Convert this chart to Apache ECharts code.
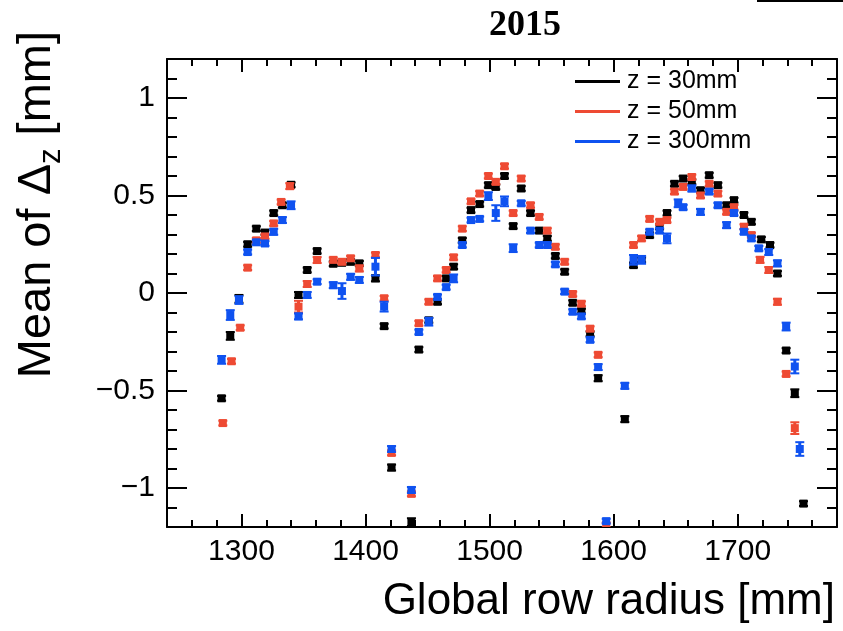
<!DOCTYPE html>
<html>
<head>
<meta charset="utf-8">
<script src="https://cdn.jsdelivr.net/npm/echarts@6/dist/echarts.min.js"></script>
<style>html,body{margin:0;padding:0;background:#fff}#c{width:843px;height:631px}</style>
</head>
<body>
<div id="c"></div>
<script>
// [radius (mm), mean of Δz (mm), error (mm)]
var seriesNames = ['z = 30mm', 'z = 50mm', 'z = 300mm'];
var xMajorTicks = [1300, 1400, 1500, 1600, 1700];
var yMajorTicks = [-1, -0.5, 0, 0.5, 1];

var z30 = [
  [1284,-0.54,0.012],[1291,-0.22,0.02],[1298,-0.03,0.02],[1305,0.25,0.012],[1312,0.33,0.012],
  [1319,0.31,0.012],[1326,0.41,0.012],[1333,0.45,0.012],[1340,0.555,0.012],
  [1346,-0.01,0.015],[1353,0.118,0.012],[1361,0.215,0.012],[1374,0.15,0.012],[1381,0.155,0.012],
  [1388,0.16,0.012],[1395,0.152,0.012],[1408,0.075,0.015],[1415,-0.17,0.012],
  [1421,-0.895,0.015],[1437,-1.175,0.02],
  [1443,-0.29,0.012],[1451,-0.14,0.012],[1458,-0.045,0.012],[1465,0.075,0.012],[1471,0.135,0.012],
  [1478,0.27,0.012],[1485,0.425,0.012],[1492,0.456,0.012],[1499,0.553,0.012],[1505,0.544,0.012],
  [1512,0.6,0.012],[1519,0.343,0.012],[1525.5,0.536,0.012],[1533,0.41,0.012],[1540,0.32,0.012],
  [1546.5,0.28,0.012],[1553,0.19,0.012],[1560.5,0.109,0.012],[1567,-0.05,0.012],[1574,-0.093,0.012],
  [1581,-0.21,0.012],[1587.5,-0.437,0.015],[1609,-0.647,0.015],
  [1616,0.143,0.012],[1622.5,0.17,0.012],[1629,0.297,0.012],[1637,0.34,0.012],[1643,0.41,0.012],
  [1649,0.56,0.012],[1656,0.587,0.012],[1663,0.57,0.012],[1670,0.527,0.012],[1677,0.604,0.012],
  [1684,0.553,0.012],[1691,0.45,0.012],[1697,0.476,0.012],[1705,0.4,0.012],[1711,0.365,0.012],
  [1719,0.275,0.012],[1726,0.246,0.012],[1732,0.1,0.012],[1739,-0.295,0.012],[1746,-0.514,0.02],
  [1753,-1.08,0.012]
];
var z50 = [
  [1285,-0.667,0.012],[1292,-0.35,0.012],[1299,-0.178,0.012],[1305,0.13,0.012],[1312,0.27,0.012],
  [1319,0.29,0.012],[1326,0.357,0.012],[1332,0.467,0.012],[1339,0.548,0.015],
  [1346,-0.07,0.03],[1353,0.046,0.015],[1361,0.169,0.015],[1374,0.17,0.012],[1381,0.16,0.012],
  [1388,0.178,0.012],[1395,0.126,0.015],[1408,0.195,0.012],[1415,-0.027,0.012],
  [1421,-0.82,0.012],[1437,-1.03,0.012],
  [1443,-0.155,0.012],[1451,-0.045,0.012],[1458,0.075,0.012],[1465,0.118,0.012],[1471,0.183,0.012],
  [1478,0.33,0.012],[1485,0.47,0.012],[1492,0.51,0.012],[1499,0.6,0.012],[1505,0.57,0.012],
  [1512,0.65,0.012],[1519,0.41,0.012],[1525.5,0.587,0.012],[1533,0.45,0.012],[1540,0.39,0.012],
  [1546.5,0.32,0.012],[1553,0.237,0.012],[1560.5,0.16,0.012],[1567,-0.005,0.012],[1574,-0.055,0.012],
  [1581,-0.183,0.012],[1587.5,-0.317,0.012],[1594,-1.19,0.012],
  [1616,0.246,0.012],[1622.5,0.28,0.012],[1629,0.38,0.012],[1637,0.365,0.012],[1643,0.374,0.012],
  [1649,0.52,0.012],[1656,0.544,0.012],[1663,0.595,0.012],[1670,0.5,0.012],[1677,0.56,0.012],
  [1684,0.51,0.012],[1691,0.416,0.012],[1697,0.44,0.012],[1705,0.34,0.012],[1711,0.297,0.012],
  [1718,0.17,0.015],[1725,0.118,0.015],[1732,-0.045,0.015],[1739,-0.415,0.012],[1746,-0.693,0.03]
];
var z300 = [
  [1284,-0.343,0.02],[1291,-0.113,0.025],[1298,-0.036,0.02],[1305,0.21,0.012],[1312,0.26,0.012],
  [1319,0.254,0.012],[1326,0.314,0.015],[1333,0.374,0.015],[1340,0.45,0.02],
  [1346,-0.12,0.015],[1353,-0.01,0.015],[1361,0.058,0.012],[1374,0.04,0.015],[1381,0.01,0.04],
  [1388,0.083,0.015],[1395,0.067,0.015],[1408,0.135,0.045],[1415,-0.07,0.025],
  [1421,-0.8,0.015],[1437,-1.01,0.015],
  [1443,-0.2,0.012],[1451,-0.147,0.02],[1458,-0.02,0.012],[1465,0.03,0.012],[1471,0.075,0.02],
  [1478,0.246,0.012],[1485,0.374,0.012],[1492,0.38,0.012],[1499,0.497,0.02],[1505,0.41,0.04],
  [1512,0.47,0.025],[1519,0.23,0.02],[1525.5,0.46,0.012],[1533,0.32,0.012],[1540,0.246,0.012],
  [1546.5,0.246,0.012],[1553,0.147,0.012],[1560.5,0.007,0.012],[1567,-0.096,0.012],[1574,-0.12,0.012],
  [1581,-0.24,0.012],[1587.5,-0.38,0.015],[1594,-1.17,0.012],[1609,-0.476,0.015],
  [1616,0.17,0.025],[1622.5,0.17,0.02],[1629,0.314,0.012],[1637,0.32,0.012],[1643,0.28,0.025],
  [1652,0.46,0.02],[1656,0.44,0.012],[1663,0.536,0.015],[1670,0.416,0.015],[1677,0.52,0.012],
  [1684,0.45,0.012],[1691,0.348,0.015],[1697,0.41,0.012],[1705,0.314,0.012],[1711,0.28,0.012],
  [1717,0.229,0.012],[1725,0.21,0.015],[1732,0.152,0.015],[1739,-0.172,0.02],[1746,-0.377,0.035],
  [1750,-0.8,0.035]
];
var seriesData = [z30, z50, z300];
var colors = ['#000000', '#ee4a33', '#0f52f0'];

var X_MIN = 1240, X_MAX = 1780, Y_MIN = -1.2, Y_MAX = 1.2;
var FONT = 'Liberation Sans, Arial, Helvetica, sans-serif';
var axisLineStyle = {show: true, onZero: false, lineStyle: {color: '#000', width: 2}};

function minusFmt(v) { return String(v).replace('-', '\u2212'); }
function plainFmt(v) { return String(v); }

function xAxisDef(pos, major) {
  var a = {
    type: 'value', position: pos, min: X_MIN, max: X_MAX, gridIndex: 0,
    splitLine: {show: false},
    axisLine: major ? {show: false, onZero: false} : axisLineStyle,
    axisTick: {show: true, inside: true, length: major ? 13 : 7, lineStyle: {color: '#000', width: 2}},
    axisLabel: {show: false}
  };
  if (major) {
    a.axisTick.customValues = xMajorTicks;
    if (pos === 'bottom') {
      a.axisLabel = {show: true, customValues: xMajorTicks, fontSize: 30, fontFamily: FONT, color: '#000', margin: 10, formatter: plainFmt};
      a.name = 'Global row radius [mm]';
      a.nameLocation = 'end';
      a.nameGap = -2;
      a.nameMoveOverlap = false;
      a.nameTextStyle = {fontSize: 44, fontFamily: FONT, color: '#000', align: 'right', verticalAlign: 'top', padding: [53, 0, 0, 0]};
    }
  } else {
    a.interval = 20;
  }
  return a;
}
function yAxisDef(pos, major) {
  var a = {
    type: 'value', position: pos, min: Y_MIN, max: Y_MAX, gridIndex: 0,
    splitLine: {show: false},
    axisLine: major ? {show: false, onZero: false} : axisLineStyle,
    axisTick: {show: true, inside: true, length: major ? 20 : 10, lineStyle: {color: '#000', width: 2}},
    axisLabel: {show: false}
  };
  if (major) {
    a.axisTick.customValues = yMajorTicks;
    if (pos === 'left') {
      a.axisLabel = {show: true, customValues: yMajorTicks, fontSize: 30, fontFamily: FONT, color: '#000', margin: 12, formatter: minusFmt};
      a.name = 'Mean of \u0394{sub|z} [mm]';
      a.nameLocation = 'end';
      a.nameRotate = 90;
      a.nameGap = 28;
      a.nameMoveOverlap = false;
      a.nameTextStyle = {fontSize: 47, fontFamily: FONT, color: '#000', align: 'right', verticalAlign: 'bottom',
        padding: [0, 0, 100, 0],
        rich: {sub: {fontSize: 31, fontFamily: FONT, color: '#000', padding: [28, 0, 0, 0]}}};
    }
  } else {
    a.interval = 0.1;
  }
  return a;
}

function makeRender(color) {
  return function (params, api) {
    var x = api.value(0), y = api.value(1), e = api.value(2);
    var p = api.coord([x, y]);
    var hi = api.coord([x, y + e]);
    var lo = api.coord([x, y - e]);
    return {
      type: 'group',
      children: [
        {type: 'line', shape: {x1: p[0], y1: hi[1], x2: p[0], y2: lo[1]}, style: {stroke: color, lineWidth: 3}},
        {type: 'line', shape: {x1: p[0] - 4.5, y1: hi[1], x2: p[0] + 4.5, y2: hi[1]}, style: {stroke: color, lineWidth: 2}},
        {type: 'line', shape: {x1: p[0] - 4.5, y1: lo[1], x2: p[0] + 4.5, y2: lo[1]}, style: {stroke: color, lineWidth: 2}},
        {type: 'rect', shape: {x: p[0] - 4, y: p[1] - 4, width: 8, height: 8}, style: {fill: color}}
      ]
    };
  };
}

var series = seriesNames.map(function (name, i) {
  return {
    type: 'custom', name: name, data: seriesData[i],
    xAxisIndex: 0, yAxisIndex: 0, clip: true,
    itemStyle: {color: colors[i]},
    encode: {x: 0, y: 1},
    renderItem: makeRender(colors[i])
  };
});

var chart = echarts.init(document.getElementById('c'), null, {renderer: 'canvas'});
chart.setOption({
  animation: false,
  backgroundColor: '#fff',
  title: {
    text: '2015', left: 520, top: 3, textAlign: 'center',
    textStyle: {fontFamily: 'Liberation Serif, Times New Roman, serif', fontWeight: 'bold', fontSize: 36, color: '#000'}
  },
  legend: {
    orient: 'vertical', left: 570, top: 64, itemWidth: 45, itemHeight: 3, itemGap: 5, icon: 'rect',
    data: seriesNames,
    textStyle: {fontSize: 25, fontFamily: FONT, color: '#000', padding: [0, 0, 0, 2]}
  },
  grid: {left: 167, right: 6, top: 59, bottom: 104, containLabel: false},
  xAxis: [xAxisDef('bottom', false), xAxisDef('bottom', true), xAxisDef('top', false), xAxisDef('top', true)],
  yAxis: [yAxisDef('left', false), yAxisDef('left', true), yAxisDef('right', false), yAxisDef('right', true)],
  graphic: [{type: 'rect', left: 757, top: 0, shape: {width: 86, height: 2}, style: {fill: '#000'}}],
  series: series
});
</script>
</body>
</html>
